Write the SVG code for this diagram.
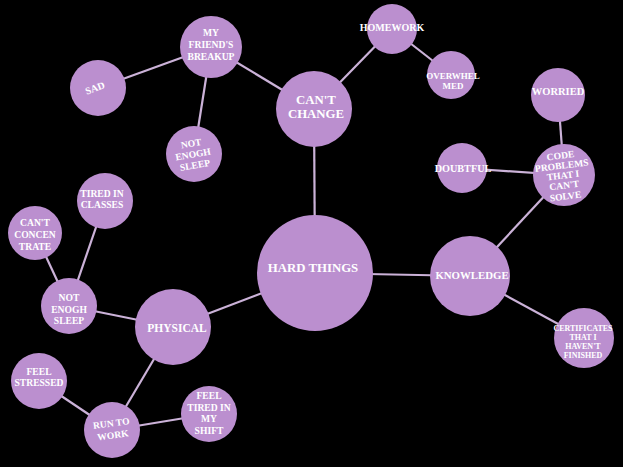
<svg xmlns="http://www.w3.org/2000/svg" width="623" height="467" viewBox="0 0 623 467">
<style>
.n{fill:#bb8fcf}
.c line{stroke:#cbb2d8;stroke-width:2.2}
text{font-family:"Liberation Serif","DejaVu Serif",serif;font-weight:bold;fill:#fff;text-anchor:middle;dominant-baseline:central}
.s{font-size:9.6px}
.xs{font-size:8px}
.m{font-size:11.5px}
.l{font-size:12.8px}
</style>
<rect width="623" height="467" fill="#000"/>
<g class="c" id="connectors">
<line x1="315" y1="273" x2="314" y2="109"/>
<line x1="315" y1="273" x2="470" y2="276"/>
<line x1="315" y1="273" x2="173" y2="327"/>
<line x1="314" y1="109" x2="211" y2="47"/>
<line x1="314" y1="109" x2="392" y2="29"/>
<line x1="392" y1="29" x2="451" y2="75"/>
<line x1="211" y1="47" x2="98" y2="88"/>
<line x1="211" y1="47" x2="194" y2="154"/>
<line x1="470" y1="276" x2="564" y2="175"/>
<line x1="470" y1="276" x2="584" y2="338"/>
<line x1="564" y1="175" x2="558" y2="95"/>
<line x1="564" y1="175" x2="462" y2="168"/>
<line x1="173" y1="327" x2="69" y2="306"/>
<line x1="173" y1="327" x2="112" y2="430"/>
<line x1="69" y1="306" x2="35" y2="233"/>
<line x1="69" y1="306" x2="105" y2="201"/>
<line x1="112" y1="430" x2="39" y2="381"/>
<line x1="112" y1="430" x2="209" y2="414"/>
</g>
<g id="hard-things"><circle class="n" cx="315" cy="273" r="58"/><text class="l" x="313" y="268">HARD THINGS</text></g>
<g id="cant-change"><circle class="n" cx="314" cy="109" r="38"/><text class="l" x="316" y="100">CAN'T</text><text class="l" x="316" y="114">CHANGE</text></g>
<g id="knowledge"><circle class="n" cx="470" cy="276" r="40"/><text class="m" x="472" y="275" style="font-size:10.8px">KNOWLEDGE</text></g>
<g id="physical"><circle class="n" cx="173" cy="327" r="38"/><text class="m" x="177" y="328">PHYSICAL</text></g>
<g id="friends-breakup"><circle class="n" cx="211" cy="47" r="31"/><text class="s" x="211" y="32">MY</text><text class="s" x="211" y="44">FRIEND'S</text><text class="s" x="211" y="56">BREAKUP</text></g>
<g id="sad"><circle class="n" cx="98" cy="88" r="28"/><text class="s" x="95" y="88" transform="rotate(-20 95 88)" style="font-size:10px">SAD</text></g>
<g id="not-enogh-sleep-1"><circle class="n" cx="194" cy="154" r="28"/><g transform="rotate(-10 193 154)"><text class="s" x="193" y="143">NOT</text><text class="s" x="193" y="154">ENOGH</text><text class="s" x="193" y="165">SLEEP</text></g></g>
<g id="homework"><circle class="n" cx="392" cy="29" r="25"/><text class="s" x="392" y="27" style="font-size:10px">HOMEWORK</text></g>
<g id="overwhelmed"><circle class="n" cx="451" cy="75" r="24"/><text class="s" x="453" y="76" style="font-size:9px">OVERWHEL</text><text class="s" x="453" y="86" style="font-size:9px">MED</text></g>
<g id="worried"><circle class="n" cx="558" cy="95" r="27"/><text class="s" x="558" y="91" style="font-size:10.5px">WORRIED</text></g>
<g id="doubtful"><circle class="n" cx="462" cy="168" r="25"/><text class="s" x="463" y="168" style="font-size:10.2px">DOUBTFUL</text></g>
<g id="code-problems"><circle class="n" cx="564" cy="175" r="31"/><g transform="rotate(-7 564 176)"><text class="s" x="563" y="155">CODE</text><text class="s" x="563" y="165">PROBLEMS</text><text class="s" x="563" y="175">THAT I</text><text class="s" x="563" y="185">CAN'T</text><text class="s" x="563" y="196">SOLVE</text></g></g>
<g id="certificates"><circle class="n" cx="584" cy="338" r="30"/><text class="xs" x="583" y="328">CERTIFICATES</text><text class="xs" x="583" y="337">THAT I</text><text class="xs" x="583" y="346">HAVEN'T</text><text class="xs" x="583" y="355">FINISHED</text></g>
<g id="tired-in-classes"><circle class="n" cx="105" cy="201" r="28"/><text class="s" x="102" y="193">TIRED IN</text><text class="s" x="102" y="204">CLASSES</text></g>
<g id="cant-concentrate"><circle class="n" cx="35" cy="233" r="27"/><text class="s" x="35" y="222">CAN'T</text><text class="s" x="35" y="234">CONCEN</text><text class="s" x="35" y="246">TRATE</text></g>
<g id="not-enogh-sleep-2"><circle class="n" cx="69" cy="306" r="28"/><text class="s" x="69" y="297">NOT</text><text class="s" x="69" y="309">ENOGH</text><text class="s" x="69" y="320">SLEEP</text></g>
<g id="feel-stressed"><circle class="n" cx="39" cy="381" r="28"/><text class="s" x="39" y="371">FEEL</text><text class="s" x="39" y="382">STRESSED</text></g>
<g id="run-to-work"><circle class="n" cx="112" cy="430" r="28"/><g transform="rotate(-8 112 429)"><text class="s" x="112" y="423">RUN TO</text><text class="s" x="112" y="435">WORK</text></g></g>
<g id="feel-tired-shift"><circle class="n" cx="209" cy="414" r="28"/><text class="s" x="209" y="395">FEEL</text><text class="s" x="209" y="407">TIRED IN</text><text class="s" x="209" y="418">MY</text><text class="s" x="209" y="430">SHIFT</text></g>
</svg>
